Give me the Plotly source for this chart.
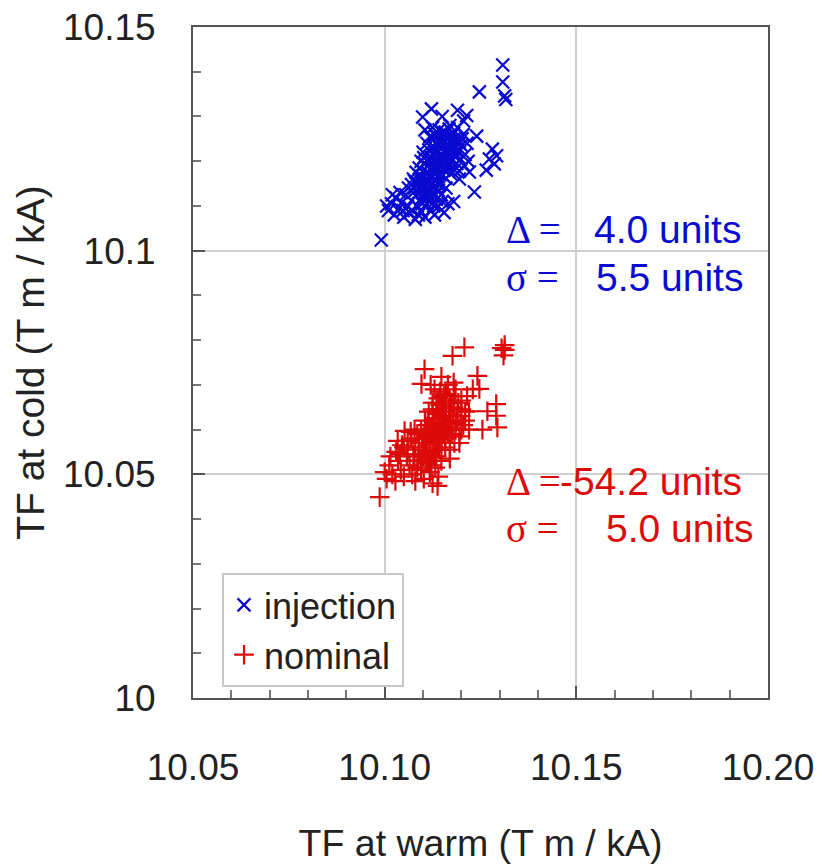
import plotly.graph_objects as go

# ---------------- data ----------------
inj_x = [10.0991, 10.1308, 10.1308, 10.1313, 10.1316, 10.1247, 10.1122, 10.1099, 10.1190, 10.1214,
         10.1206, 10.1240, 10.1281, 10.1292, 10.1273, 10.1286, 10.1234, 10.1221, 10.1265, 10.1180,
         10.1195, 10.1105, 10.1150, 10.1170,
         10.1120, 10.1135, 10.1148, 10.1155, 10.1162, 10.1170, 10.1178, 10.1185, 10.1192, 10.1200,
         10.1128, 10.1140, 10.1152, 10.1165, 10.1175, 10.1188, 10.1198, 10.1210, 10.1215, 10.1205,
         10.1110, 10.1118, 10.1130, 10.1142, 10.1158, 10.1168, 10.1180, 10.1190, 10.1125, 10.1138,
         10.1112, 10.1122, 10.1135, 10.1145, 10.1160, 10.1172, 10.1182, 10.1195, 10.1105, 10.1100,
         10.1132, 10.1145, 10.1158, 10.1165, 10.1176, 10.1150, 10.1128, 10.1115, 10.1185, 10.1208,
         10.1195, 10.1218, 10.1202, 10.1168, 10.1140, 10.1155, 10.1185, 10.1162, 10.1175, 10.1145,
         10.1010, 10.1018, 10.1025, 10.1030, 10.1038, 10.1045, 10.1050, 10.1055, 10.1060, 10.1065,
         10.1070, 10.1075, 10.1080, 10.1085, 10.1090, 10.1095, 10.1100, 10.1105, 10.1110, 10.1115,
         10.1120, 10.1125, 10.1130, 10.1135, 10.1140, 10.1148, 10.1155, 10.1160, 10.1165, 10.1005,
         10.1040, 10.1062, 10.1078, 10.1092, 10.1102, 10.1088, 10.1072, 10.1118, 10.1128, 10.1140,
         10.1020, 10.1048, 10.1098, 10.1108, 10.1150,
         10.1138, 10.1148, 10.1152, 10.1142, 10.1135, 10.1158, 10.1128, 10.1122, 10.1162, 10.1170,
         10.1178, 10.1172, 10.1165, 10.1155, 10.1148, 10.1138, 10.1130, 10.1120, 10.1112, 10.1108,
         10.1118, 10.1128, 10.1138, 10.1125, 10.1115, 10.1105, 10.1098, 10.1108, 10.1120, 10.1132,
         10.1145, 10.1152, 10.1140, 10.1130, 10.1188, 10.1182, 10.1195, 10.1160, 10.1150, 10.1135,
         10.1075, 10.1082, 10.1090, 10.1085, 10.1095, 10.1092, 10.1100, 10.1078, 10.1088, 10.1098,
         10.1070, 10.1102]
inj_y = [10.1024, 10.1415, 10.1377, 10.1346, 10.1338, 10.1355, 10.1317, 10.1299, 10.1314, 10.1302,
         10.1290, 10.1256, 10.1227, 10.1212, 10.1205, 10.1194, 10.1131, 10.1176, 10.1180, 10.1110,
         10.1245, 10.1270, 10.1300, 10.1280,
         10.1210, 10.1225, 10.1238, 10.1205, 10.1250, 10.1230, 10.1215, 10.1245, 10.1222, 10.1235,
         10.1190, 10.1180, 10.1195, 10.1185, 10.1200, 10.1195, 10.1205, 10.1215, 10.1240, 10.1260,
         10.1240, 10.1255, 10.1262, 10.1270, 10.1265, 10.1272, 10.1262, 10.1275, 10.1275, 10.1245,
         10.1175, 10.1165, 10.1158, 10.1170, 10.1162, 10.1172, 10.1180, 10.1178, 10.1195, 10.1220,
         10.1200, 10.1215, 10.1225, 10.1212, 10.1248, 10.1252, 10.1232, 10.1225, 10.1230, 10.1190,
         10.1160, 10.1200, 10.1250, 10.1195, 10.1195, 10.1180, 10.1210, 10.1238, 10.1258, 10.1240,
         10.1090, 10.1105, 10.1080, 10.1118, 10.1095, 10.1108, 10.1075, 10.1125, 10.1098, 10.1085,
         10.1112, 10.1130, 10.1070, 10.1100, 10.1140, 10.1088, 10.1120, 10.1075, 10.1105, 10.1135,
         10.1090, 10.1148, 10.1080, 10.1115, 10.1098, 10.1125, 10.1085, 10.1140, 10.1105, 10.1100,
         10.1130, 10.1140, 10.1155, 10.1160, 10.1150, 10.1080, 10.1090, 10.1122, 10.1100, 10.1135,
         10.1125, 10.1090, 10.1105, 10.1160, 10.1110,
         10.1205, 10.1198, 10.1212, 10.1188, 10.1218, 10.1202, 10.1182, 10.1198, 10.1192, 10.1222,
         10.1238, 10.1205, 10.1228, 10.1245, 10.1228, 10.1235, 10.1212, 10.1185, 10.1160, 10.1148,
         10.1150, 10.1142, 10.1150, 10.1130, 10.1140, 10.1130, 10.1118, 10.1120, 10.1112, 10.1125,
         10.1150, 10.1168, 10.1165, 10.1172, 10.1222, 10.1250, 10.1240, 10.1255, 10.1265, 10.1255,
         10.1160, 10.1175, 10.1185, 10.1150, 10.1200, 10.1168, 10.1178, 10.1140, 10.1130, 10.1145,
         10.1148, 10.1208]

nom_x = [10.0987, 10.1313, 10.1313, 10.1310, 10.1305, 10.1208, 10.1177, 10.1242, 10.1104, 10.1291,
         10.1291, 10.1268, 10.1294, 10.1220, 10.1138, 10.1148, 10.1096, 10.1247, 10.1034, 10.1052,
         10.1230, 10.1180, 10.1255, 10.1200,
         10.1120, 10.1130, 10.1140, 10.1150, 10.1160, 10.1170, 10.1180, 10.1190, 10.1200, 10.1210,
         10.1100, 10.1110, 10.1125, 10.1135, 10.1145, 10.1155, 10.1165, 10.1175, 10.1185, 10.1195,
         10.1115, 10.1125, 10.1140, 10.1150, 10.1160, 10.1170, 10.1185, 10.1130, 10.1120, 10.1165,
         10.1080, 10.1090, 10.1095, 10.1105, 10.1118, 10.1128, 10.1142, 10.1158, 10.1170, 10.1182,
         10.1150, 10.1138, 10.1172, 10.1160, 10.1145, 10.1128, 10.1112, 10.1190, 10.1205, 10.1215,
         10.1000, 10.1005, 10.1012, 10.1020, 10.1028, 10.1035, 10.1042, 10.1050, 10.1058, 10.1065,
         10.1072, 10.1080, 10.1088, 10.1095, 10.1102, 10.1110, 10.1118, 10.1125, 10.1132, 10.1140,
         10.1030, 10.1045, 10.1060, 10.1075, 10.1090, 10.1015, 10.1100, 10.1148, 10.1070, 10.1085,
         10.1138, 10.1148, 10.1155, 10.1142, 10.1132, 10.1122, 10.1162, 10.1170, 10.1178, 10.1168,
         10.1155, 10.1145, 10.1135, 10.1125, 10.1115, 10.1105, 10.1098, 10.1108, 10.1118, 10.1128,
         10.1138, 10.1148, 10.1158, 10.1165, 10.1088, 10.1078, 10.1095, 10.1112, 10.1122, 10.1135,
         10.1175, 10.1182, 10.1192, 10.1198, 10.1145, 10.1155, 10.1135, 10.1125, 10.1185, 10.1200,
         10.1060, 10.1068, 10.1078, 10.1085, 10.1050, 10.1040, 10.1210, 10.1220, 10.1195, 10.1170]
nom_y = [10.0449, 10.0789, 10.0778, 10.0766, 10.0782, 10.0784, 10.0765, 10.0720, 10.0735, 10.0657,
         10.0631, 10.0641, 10.0605, 10.0641, 10.0474, 10.0718, 10.0702, 10.0691, 10.0575, 10.0597,
         10.0690, 10.0705, 10.0600, 10.0600,
         10.0600, 10.0615, 10.0625, 10.0610, 10.0640, 10.0630, 10.0650, 10.0620, 10.0665, 10.0640,
         10.0580, 10.0570, 10.0585, 10.0595, 10.0580, 10.0595, 10.0605, 10.0590, 10.0600, 10.0585,
         10.0640, 10.0660, 10.0670, 10.0655, 10.0680, 10.0665, 10.0690, 10.0690, 10.0700, 10.0700,
         10.0560, 10.0545, 10.0600, 10.0620, 10.0550, 10.0540, 10.0555, 10.0560, 10.0555, 10.0570,
         10.0630, 10.0645, 10.0620, 10.0615, 10.0600, 10.0625, 10.0610, 10.0645, 10.0610, 10.0675,
         10.0505, 10.0490, 10.0520, 10.0500, 10.0485, 10.0530, 10.0510, 10.0495, 10.0540, 10.0520,
         10.0500, 10.0485, 10.0530, 10.0510, 10.0490, 10.0525, 10.0505, 10.0480, 10.0515, 10.0495,
         10.0550, 10.0565, 10.0555, 10.0545, 10.0570, 10.0540, 10.0540, 10.0530, 10.0580, 10.0515,
         10.0590, 10.0585, 10.0605, 10.0610, 10.0575, 10.0590, 10.0598, 10.0612, 10.0632, 10.0648,
         10.0640, 10.0655, 10.0635, 10.0605, 10.0595, 10.0570, 10.0555, 10.0545, 10.0565, 10.0555,
         10.0560, 10.0570, 10.0580, 10.0590, 10.0545, 10.0530, 10.0530, 10.0535, 10.0520, 10.0540,
         10.0660, 10.0675, 10.0660, 10.0630, 10.0685, 10.0675, 10.0660, 10.0645, 10.0615, 10.0645,
         10.0575, 10.0595, 10.0600, 10.0590, 10.0560, 10.0545, 10.0620, 10.0600, 10.0570, 10.0535]

x_tickvals = [10.05, 10.10, 10.15, 10.20]
x_ticktext = ["10.05", "10.10", "10.15", "10.20"]
y_tickvals = [10.0, 10.05, 10.1, 10.15]
y_ticktext = ["10", "10.05", "10.1", "10.15"]

series_names = ["injection", "nominal"]
stat_inj = ("4.0", "5.5")
stat_nom = ("-54.2", "5.0")

# ---------------- style ----------------
BLUE = "#0a0ad2"
RED = "#dc0a0a"
SANS = "Liberation Sans, Arial, sans-serif"
SERIF = "Liberation Serif, Times New Roman, serif"
TXT = "#222222"
FS = 37

# plot-area geometry in px (for paper conversion of annotation positions)
L, R, T, B = 193, 768, 27, 698
W, H = 822, 865
def px(xp):
    return (xp - L) / (R - L)
def py(yp):
    return (B - yp) / (B - T)

fig = go.Figure()
fig.add_trace(go.Scatter(
    x=inj_x, y=inj_y, mode="markers", name=series_names[0],
    marker=dict(symbol="x-thin", size=13, line=dict(color=BLUE, width=2.2), color=BLUE)))
fig.add_trace(go.Scatter(
    x=nom_x, y=nom_y, mode="markers", name=series_names[1],
    marker=dict(symbol="cross-thin", size=14, line=dict(color=RED, width=2.2), color=RED)))

axis_common = dict(
    showline=True, linecolor="#555555", linewidth=2, mirror=True,
    showgrid=True, gridcolor="#cfcfcf", gridwidth=2,
    ticks="inside", ticklen=12, tickwidth=2, tickcolor="#555555",
    tickfont=dict(family=SANS, size=FS, color=TXT),
    zeroline=False, automargin=False,
    minor=dict(dtick=0.01, ticks="inside", ticklen=8, tickwidth=1.5,
               tickcolor="#777777", showgrid=False),
)

fig.update_layout(
    width=W, height=H,
    margin=dict(l=L, r=W - R, t=T, b=H - B),
    paper_bgcolor="white", plot_bgcolor="white",
    showlegend=True,
    legend=dict(x=px(222), y=py(573), xanchor="left", yanchor="top",
                bgcolor="white", bordercolor="#c8c8c8", borderwidth=2,
                font=dict(family=SANS, size=36, color=TXT),
                itemwidth=30, tracegroupgap=0),
    xaxis=dict(range=[10.05, 10.20], tickvals=x_tickvals, ticktext=x_ticktext,
               ticklabelstandoff=36,
               title=dict(text="TF at warm (T m / kA)", standoff=42,
                          font=dict(family=SANS, size=37.5, color=TXT)),
               **axis_common),
    yaxis=dict(range=[10.0, 10.15], tickvals=y_tickvals, ticktext=y_ticktext,
               ticklabelstandoff=28,
               title=dict(text="TF at cold (T m / kA)", standoff=6,
                          font=dict(family=SANS, size=39, color=TXT)),
               **axis_common),
)

# white boxes behind the statistics text (they hide the gridlines)
for (y0, y1) in [(205, 300), (452, 555)]:
    fig.add_shape(type="rect", xref="paper", yref="paper",
                  x0=px(500), x1=px(758), y0=py(y1), y1=py(y0),
                  fillcolor="white", line=dict(width=0), layer="between")

def stat_line(label, value, ycen, xval, color):
    fig.add_annotation(xref="paper", yref="paper", x=px(504), y=py(ycen),
                       xanchor="left", yanchor="middle", showarrow=False,
                       text=label, font=dict(family=SERIF, size=39, color=color))
    fig.add_annotation(xref="paper", yref="paper", x=px(xval), y=py(ycen),
                       xanchor="left", yanchor="middle", showarrow=False,
                       text=value + " units", font=dict(family=SANS, size=39, color=color))

stat_line("\u0394 =", stat_inj[0], 230, 592, BLUE)
stat_line("\u03c3 =", stat_inj[1], 277, 594, BLUE)
stat_line("\u0394 =", stat_nom[0], 481, 558, RED)
stat_line("\u03c3 =", stat_nom[1], 528, 604, RED)

fig.write_html("out.html")
